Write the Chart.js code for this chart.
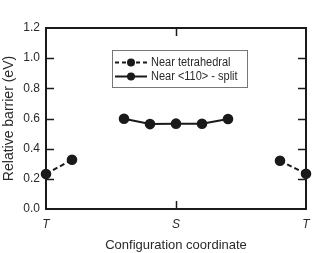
<!DOCTYPE html>
<html><head><meta charset="utf-8">
<script src="https://cdn.jsdelivr.net/npm/chart.js@4/dist/chart.umd.min.js"></script>
<style>html,body{margin:0;padding:0;background:#fff}canvas{display:block}</style>
</head><body>
<canvas id="c" width="321" height="253"></canvas>
<script>
// ---- data ----
const xTickValues = [0, 1, 2];
const xTickLabels = ['T', 'S', 'T'];
const yTickValues = [0, 0.2, 0.4, 0.6, 0.8, 1.0, 1.2];
const seriesLabels = ['Near tetrahedral', 'Near <110> - split'];
const tetraLeftX = [0, 0.2];
const tetraLeftY = [0.232, 0.327];
const splitX = [0.6, 0.8, 1.0, 1.2, 1.4];
const splitY = [0.598, 0.563, 0.566, 0.565, 0.597];
const tetraRightX = [1.8, 2.0];
const tetraRightY = [0.320, 0.234];

const FONT = '"Liberation Sans", Arial, Helvetica, sans-serif';
const INK = '#1a1a1a';
const TXT = '#2a2a2a';
const pts = (xs, ys) => xs.map((x, i) => ({x, y: ys[i]}));

const dashedStyle = {borderColor: INK, backgroundColor: INK, borderWidth: 2, borderDash: [5, 3],
  pointRadius: 4.3, pointHoverRadius: 4.3, pointBackgroundColor: INK, pointBorderColor: INK, showLine: true, clip: false};
const solidStyle = {borderColor: INK, backgroundColor: INK, borderWidth: 2, borderDash: [],
  pointRadius: 4.3, pointHoverRadius: 4.3, pointBackgroundColor: INK, pointBorderColor: INK, showLine: true, clip: false};

const framePlugin = {
  id: 'frame',
  afterDatasetsDraw(chart) {
    const {ctx, chartArea: a, scales: {x, y}} = chart;
    ctx.save();
    ctx.strokeStyle = INK;
    ctx.lineWidth = 2;
    ctx.setLineDash([]);
    ctx.strokeRect(a.left, a.top, a.right - a.left, a.bottom - a.top);
    ctx.lineWidth = 1.5;
    const tl = 8;
    yTickValues.slice(1, -1).forEach(v => {
      const py = Math.round(y.getPixelForValue(v)) + 0.5;
      ctx.beginPath();
      ctx.moveTo(a.left, py); ctx.lineTo(a.left + tl, py);
      ctx.moveTo(a.right, py); ctx.lineTo(a.right - tl, py);
      ctx.stroke();
    });
    xTickValues.slice(1, -1).forEach(v => {
      const px = Math.round(x.getPixelForValue(v)) + 0.5;
      ctx.beginPath();
      ctx.moveTo(px, a.top); ctx.lineTo(px, a.top + tl);
      ctx.moveTo(px, a.bottom); ctx.lineTo(px, a.bottom - tl);
      ctx.stroke();
    });
    // legend
    const bx = 112.5, by = 50.5, bw = 135, bh = 37;
    ctx.fillStyle = '#fff';
    ctx.fillRect(bx, by, bw, bh);
    ctx.strokeStyle = '#777';
    ctx.lineWidth = 1;
    ctx.strokeRect(bx, by, bw, bh);
    const rows = [{label: seriesLabels[0], ds: chart.data.datasets[0], y: 62.5},
                  {label: seriesLabels[1], ds: chart.data.datasets[1], y: 76.5}];
    rows.forEach(r => {
      ctx.strokeStyle = INK;
      ctx.lineWidth = 2;
      ctx.setLineDash(r.ds.borderDash && r.ds.borderDash.length ? [4, 3] : []);
      ctx.beginPath();
      ctx.moveTo(115, r.y); ctx.lineTo(147, r.y);
      ctx.stroke();
      ctx.setLineDash([]);
      ctx.fillStyle = INK;
      ctx.beginPath();
      ctx.arc(131, r.y, 4, 0, Math.PI * 2);
      ctx.fill();
      ctx.save();
      ctx.translate(151, r.y + 0.5);
      ctx.scale(0.88, 1);
      ctx.font = '12.5px ' + FONT;
      ctx.textBaseline = 'middle';
      ctx.textAlign = 'left';
      ctx.fillStyle = TXT;
      ctx.fillText(r.label, 0, 0);
      ctx.restore();
    });
    ctx.restore();
  }
};

new Chart(document.getElementById('c'), {
  type: 'scatter',
  data: {
    datasets: [
      Object.assign({label: seriesLabels[0], data: pts(tetraLeftX, tetraLeftY)}, dashedStyle),
      Object.assign({label: seriesLabels[1], data: pts(splitX, splitY)}, solidStyle),
      Object.assign({label: seriesLabels[0], data: pts(tetraRightX, tetraRightY)}, dashedStyle)
    ]
  },
  options: {
    responsive: false,
    animation: false,
    events: [],
    layout: {padding: {top: 28, right: 15, left: 0, bottom: 0}},
    plugins: {legend: {display: false}, tooltip: {enabled: false}},
    scales: {
      x: {
        type: 'linear', min: 0, max: 2,
        afterBuildTicks(s) { s.ticks = xTickValues.map(v => ({value: v})); },
        ticks: {
          callback: (v) => xTickLabels[xTickValues.indexOf(v)],
          font: {family: FONT, size: 12, style: 'italic'}, color: TXT, padding: 8, maxRotation: 0, autoSkip: false
        },
        grid: {display: false, drawTicks: false},
        border: {display: false},
        title: {display: true, text: 'Configuration coordinate', font: {family: FONT, size: 13}, color: TXT, padding: {top: 0, bottom: 0}},
        afterFit(s) { s.height = 44; }
      },
      y: {
        type: 'linear', min: 0, max: 1.2,
        afterBuildTicks(s) { s.ticks = yTickValues.map(v => ({value: v})); },
        ticks: {
          callback: (v) => Number(v).toFixed(1),
          font: {family: FONT, size: 12}, color: TXT, padding: 6
        },
        grid: {display: false, drawTicks: false},
        border: {display: false},
        title: {display: true, text: 'Relative barrier (eV)', font: {family: FONT, size: 14}, color: TXT, padding: {top: 1, bottom: 0}},
        afterFit(s) { s.width = 46; }
      }
    }
  },
  plugins: [framePlugin]
});
</script>
</body></html>
